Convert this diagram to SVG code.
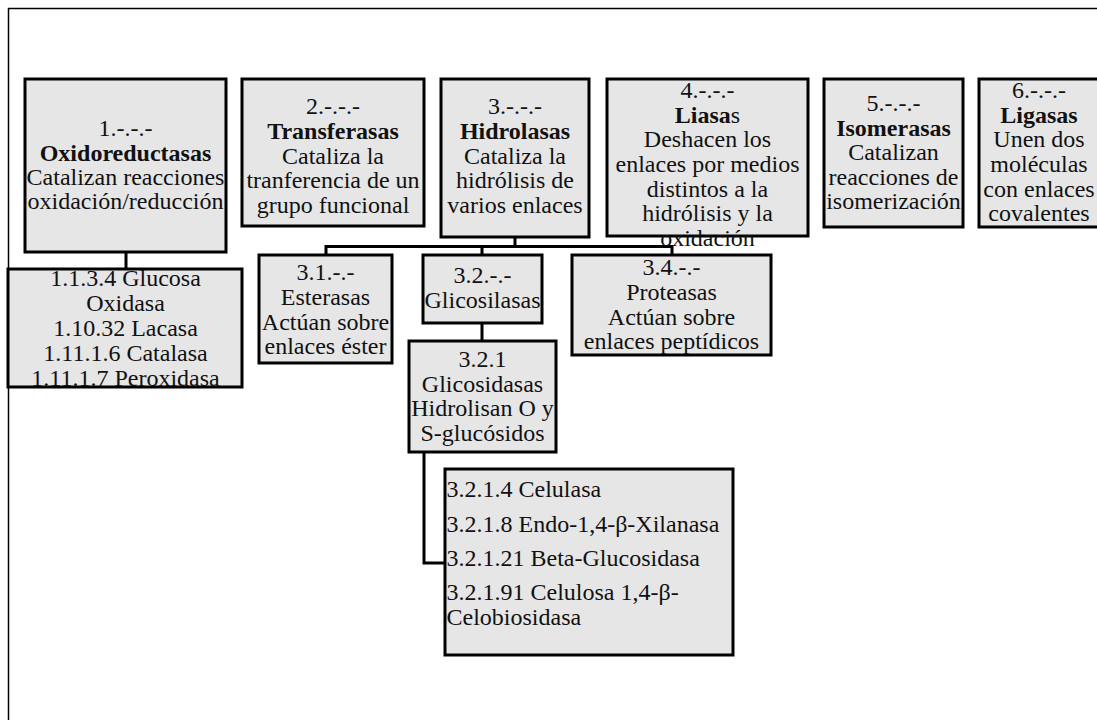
<svg xmlns="http://www.w3.org/2000/svg" width="1097" height="720" viewBox="0 0 1097 720">
<style>
.box{fill:#e6e6e6;stroke:#000;stroke-width:3}
.frame{fill:none;stroke:#000;stroke-width:1.5}
.con{fill:none;stroke:#000;stroke-width:3}
text{font-family:"Liberation Serif","Times New Roman",serif;font-size:24px;fill:#111}
.c{text-anchor:middle}
.b{font-weight:bold}
</style>
<rect width="1097" height="720" fill="#fff"/>
<rect class="frame" x="8.5" y="8.5" width="1200" height="800"/>
<g id="connectors">
<path class="con" d="M126 252V269"/>
<path class="con" d="M515 237V246.5M326 255V246.5H672V255M482 246.5V255"/>
<path class="con" d="M482 323V341"/>
<path class="con" d="M424 452V563H445"/>
</g>
<g id="n1">
<rect class="box" x="25" y="79" width="201" height="173"/>
<text class="c" x="125.5" y="136">1.-.-.-</text>
<text class="c b" x="125.5" y="160.5">Oxidoreductasas</text>
<text class="c" x="125.5" y="185">Catalizan reacciones</text>
<text class="c" x="125.5" y="209">oxidación/reducción</text>
</g>
<g id="n2">
<rect class="box" x="242" y="79" width="182" height="147"/>
<text class="c" x="333" y="114">2.-.-.-</text>
<text class="c b" x="333" y="139">Transferasas</text>
<text class="c" x="333" y="164">Cataliza la</text>
<text class="c" x="333" y="188">tranferencia de un</text>
<text class="c" x="333" y="212.5">grupo funcional</text>
</g>
<g id="n3">
<rect class="box" x="441" y="79" width="148" height="158"/>
<text class="c" x="515" y="114">3.-.-.-</text>
<text class="c b" x="515" y="139">Hidrolasas</text>
<text class="c" x="515" y="164">Cataliza la</text>
<text class="c" x="515" y="188">hidrólisis de</text>
<text class="c" x="515" y="212.5">varios enlaces</text>
</g>
<g id="n4">
<rect class="box" x="607" y="79" width="201" height="157"/>
<text class="c" x="707.5" y="97.5">4.-.-.-</text>
<text class="c" x="707.5" y="122.5"><tspan class="b">Liasa</tspan>s</text>
<text class="c" x="707.5" y="147">Deshacen los</text>
<text class="c" x="707.5" y="172">enlaces por medios</text>
<text class="c" x="707.5" y="196.5">distintos a la</text>
<text class="c" x="707.5" y="221">hidrólisis y la</text>
<text class="c" x="707.5" y="245.5">oxidación</text>
</g>
<g id="n5">
<rect class="box" x="824" y="79" width="139" height="148"/>
<text class="c" x="893.5" y="111">5.-.-.-</text>
<text class="c b" x="893.5" y="135.5">Isomerasas</text>
<text class="c" x="893.5" y="160">Catalizan</text>
<text class="c" x="893.5" y="185">reacciones de</text>
<text class="c" x="893.5" y="209">isomerización</text>
</g>
<g id="n6">
<rect class="box" x="979" y="79" width="120" height="148"/>
<text class="c" x="1039" y="97.5">6.-.-.-</text>
<text class="c b" x="1039" y="122.5">Ligasas</text>
<text class="c" x="1039" y="147">Unen dos</text>
<text class="c" x="1039" y="172">moléculas</text>
<text class="c" x="1039" y="196.5">con enlaces</text>
<text class="c" x="1039" y="221">covalentes</text>
</g>
<g id="n11">
<rect class="box" x="8" y="269" width="234" height="118"/>
<text class="c" x="125.5" y="286">1.1.3.4 Glucosa</text>
<text class="c" x="125.5" y="311">Oxidasa</text>
<text class="c" x="125.5" y="336">1.10.32 Lacasa</text>
<text class="c" x="125.5" y="361">1.11.1.6 Catalasa</text>
<text class="c" x="125.5" y="386">1.11.1.7 Peroxidasa</text>
</g>
<g id="n31">
<rect class="box" x="259" y="255" width="133" height="108"/>
<text class="c" x="325.5" y="280">3.1.-.-</text>
<text class="c" x="325.5" y="305">Esterasas</text>
<text class="c" x="325.5" y="329.5">Actúan sobre</text>
<text class="c" x="325.5" y="354">enlaces éster</text>
</g>
<g id="n32">
<rect class="box" x="423" y="255" width="119" height="68"/>
<text class="c" x="482.5" y="283">3.2.-.-</text>
<text class="c" x="482.5" y="308">Glicosilasas</text>
</g>
<g id="n34">
<rect class="box" x="572" y="255" width="199" height="100"/>
<text class="c" x="671.5" y="275">3.4.-.-</text>
<text class="c" x="671.5" y="300">Proteasas</text>
<text class="c" x="671.5" y="324.5">Actúan sobre</text>
<text class="c" x="671.5" y="349">enlaces peptídicos</text>
</g>
<g id="n321">
<rect class="box" x="409" y="341" width="147" height="111"/>
<text class="c" x="482.5" y="366.5">3.2.1</text>
<text class="c" x="482.5" y="391.5">Glicosidasas</text>
<text class="c" x="482.5" y="416">Hidrolisan O y</text>
<text class="c" x="482.5" y="440.5">S-glucósidos</text>
</g>
<g id="n3214">
<rect class="box" x="445" y="469" width="288" height="186"/>
<text x="446.5" y="496.5">3.2.1.4 Celulasa</text>
<text x="446.5" y="531.5">3.2.1.8 Endo-1,4-β-Xilanasa</text>
<text x="446.5" y="565.5">3.2.1.21 Beta-Glucosidasa</text>
<text x="446.5" y="600">3.2.1.91 Celulosa 1,4-β-</text>
<text x="446.5" y="625">Celobiosidasa</text>
</g>
</svg>
